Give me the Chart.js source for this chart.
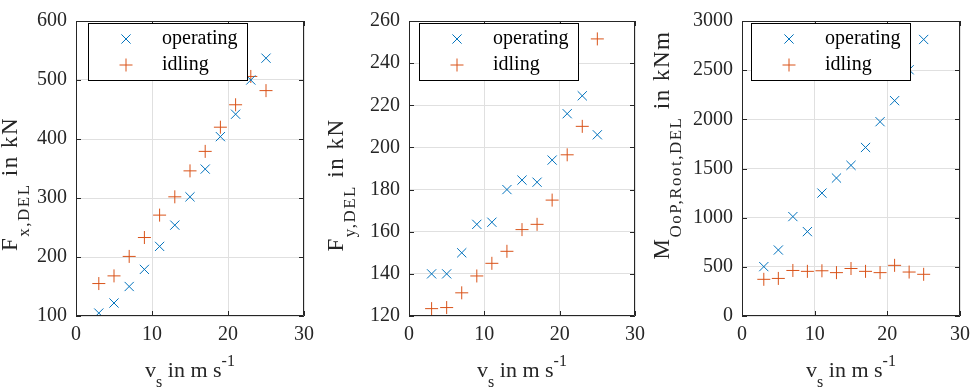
<!DOCTYPE html>
<html>
<head>
<meta charset="utf-8">
<script src="https://cdn.jsdelivr.net/npm/chart.js@4"></script>
<style>
  body { margin: 0; background: #fff; }
  .panel { position: absolute; top: 0; }
</style>
</head>
<body>
<div class="panel" style="left:0px"><canvas id="chart_fx" width="326" height="388"></canvas></div>
<div class="panel" style="left:326px"><canvas id="chart_fy" width="326" height="388"></canvas></div>
<div class="panel" style="left:652px"><canvas id="chart_moop" width="325" height="388"></canvas></div>
<script>
var wind_speed = [3, 5, 7, 9, 11, 13, 15, 17, 19, 21, 23, 25];

var fx_operating = [105, 122, 150, 179, 218, 254, 302, 349, 404, 442, 500, 537];
var fx_idling    = [155, 168, 201, 233, 271, 302, 346, 379, 420, 458, 506, 482];

var fy_operating = [140, 140, 150, 163.5, 164.5, 180, 184.5, 183.5, 194, 216, 224.5, 206];
var fy_idling    = [123.5, 124, 131, 139, 145, 150.7, 161, 163.5, 175, 196.5, 210, 251.5];

var moop_operating = [502, 671, 1011, 858, 1250, 1403, 1532, 1714, 1976, 2190, 2504, 2812];
var moop_idling    = [373, 382, 463, 454, 460, 441, 483, 454, 441, 515, 447, 424];

var x_ticks = [0, 30, 10];

var BLUE = '#0072BD';
var RED = '#D95319';
var FONT = '"Liberation Serif", "Times New Roman", serif';

// draw text pieces with sub/superscripts, centred on x
function drawRich(ctx, parts, x, y, spacing) {
	var total = 0;
	ctx.letterSpacing = (spacing || 0) + 'px';
	parts.forEach(function (p) {
		ctx.font = p.size + 'px ' + FONT;
		p.w = ctx.measureText(p.t).width;
		total += p.w;
	});
	var cx = x - total / 2;
	parts.forEach(function (p) {
		ctx.font = p.size + 'px ' + FONT;
		ctx.fillText(p.t, cx, y + (p.dy || 0));
		cx += p.w;
	});
	ctx.letterSpacing = '0px';
}

function drawMarker(ctx, style, x, y, r) {
	ctx.beginPath();
	if (style == 'cross') {
		ctx.moveTo(x - r, y); ctx.lineTo(x + r, y);
		ctx.moveTo(x, y - r); ctx.lineTo(x, y + r);
	} else {
		var d = r * Math.SQRT1_2;
		ctx.moveTo(x - d, y - d); ctx.lineTo(x + d, y + d);
		ctx.moveTo(x - d, y + d); ctx.lineTo(x + d, y - d);
	}
	ctx.stroke();
}

var decorPlugin = {
	id: 'decor',
	afterDraw: function (chart, args, opts) {
		var ctx = chart.ctx;
		var a = chart.chartArea;
		var sx = chart.scales.x, sy = chart.scales.y;
		ctx.save();

		// box + inward ticks
		ctx.strokeStyle = '#262626';
		ctx.lineWidth = 1;
		ctx.beginPath();
		ctx.rect(a.left + 0.5, a.top + 0.5, a.right - a.left - 1, a.bottom - a.top - 1);
		ctx.stroke();
		ctx.beginPath();
		sy.ticks.forEach(function (t) {
			var py = Math.round(sy.getPixelForValue(t.value)) + 0.5;
			ctx.moveTo(a.left, py); ctx.lineTo(a.left + 5, py);
			ctx.moveTo(a.right, py); ctx.lineTo(a.right - 5, py);
		});
		sx.ticks.forEach(function (t) {
			var px = Math.round(sx.getPixelForValue(t.value)) + 0.5;
			ctx.moveTo(px, a.bottom); ctx.lineTo(px, a.bottom - 5);
			ctx.moveTo(px, a.top); ctx.lineTo(px, a.top + 5);
		});
		ctx.stroke();

		// legend
		var lx = a.left + opts.legendDx, ly = 23;
		ctx.fillStyle = '#fff';
		ctx.fillRect(lx, ly, 159, 57);
		ctx.strokeStyle = '#000';
		ctx.strokeRect(lx + 0.5, ly + 0.5, 159, 57);
		chart.data.datasets.forEach(function (ds, i) {
			var ry = ly + 16 + i * 26;
			ctx.strokeStyle = ds.borderColor;
			drawMarker(ctx, ds.pointStyle, lx + 38, ry, 6.5);
			ctx.fillStyle = '#000';
			ctx.font = '20px ' + FONT;
			ctx.textBaseline = 'middle';
			ctx.fillText(ds.label, lx + 74, ry);
		});

		// axis titles
		ctx.fillStyle = '#262626';
		ctx.textBaseline = 'alphabetic';
		drawRich(ctx, [
			{ t: 'v', size: 22 }, { t: 's', size: 16, dy: 10 },
			{ t: ' in m s', size: 22 }, { t: '-1', size: 16, dy: -11 }
		], (a.left + a.right) / 2, 377, 0);

		ctx.translate(17, opts.titleY);
		ctx.rotate(-Math.PI / 2);
		drawRich(ctx, opts.yTitle, 0, 0, 1.5);
		ctx.restore();
	}
};

function makeChart(id, op, idl, yMin, yMax, yStep, yAxisW, padRight, yTitle, legendDx, titleY) {
	return new Chart(id, {
		type: 'scatter',
		data: {
			datasets: [
				{
					label: 'operating',
					data: wind_speed.map(function (v, i) { return { x: v, y: op[i] }; }),
					pointStyle: 'crossRot',
					radius: 6.5,
					borderWidth: 1,
					borderColor: BLUE,
					backgroundColor: BLUE
				},
				{
					label: 'idling',
					data: wind_speed.map(function (v, i) { return { x: v, y: idl[i] }; }),
					pointStyle: 'cross',
					radius: 6.5,
					borderWidth: 1,
					borderColor: RED,
					backgroundColor: RED
				}
			]
		},
		options: {
			responsive: false,
			animation: false,
			events: [],
			layout: { padding: { top: 7, right: padRight, bottom: 0, left: 0 } },
			scales: {
				x: {
					min: x_ticks[0],
					max: x_ticks[1],
					ticks: { stepSize: x_ticks[2], padding: 7, color: '#262626', font: { family: FONT, size: 20 } },
					grid: { color: '#e0e0e0', drawTicks: false },
					border: { display: false },
					afterFit: function (s) { s.height = 72; }
				},
				y: {
					min: yMin,
					max: yMax,
					ticks: {
						stepSize: yStep, padding: 9, color: '#262626', font: { family: FONT, size: 20 },
						callback: function (value) { return String(value); }
					},
					grid: { color: '#e0e0e0', drawTicks: false },
					border: { display: false },
					afterFit: function (s) { s.width = yAxisW; }
				}
			},
			plugins: {
				legend: { display: false },
				tooltip: { enabled: false },
				decor: { yTitle: yTitle, legendDx: legendDx, titleY: titleY }
			}
		},
		plugins: [decorPlugin]
	});
}

makeChart('chart_fx', fx_operating, fx_idling, 100, 600, 100, 76, 22,
	[{ t: 'F', size: 23 }, { t: 'x,DEL', size: 17, dy: 12 }, { t: ' in kN', size: 23 }], 12, 184);
makeChart('chart_fy', fy_operating, fy_idling, 120, 260, 20, 83, 16,
	[{ t: 'F', size: 23 }, { t: 'y,DEL', size: 17, dy: 12 }, { t: ' in kN', size: 23 }], 10, 185);
makeChart('chart_moop', moop_operating, moop_idling, 0, 3000, 500, 90, 8,
	[{ t: 'M', size: 23 }, { t: 'OoP,Root,DEL', size: 17, dy: 12 }, { t: ' in kNm', size: 23 }], 9, 145);
</script>
</body>
</html>
